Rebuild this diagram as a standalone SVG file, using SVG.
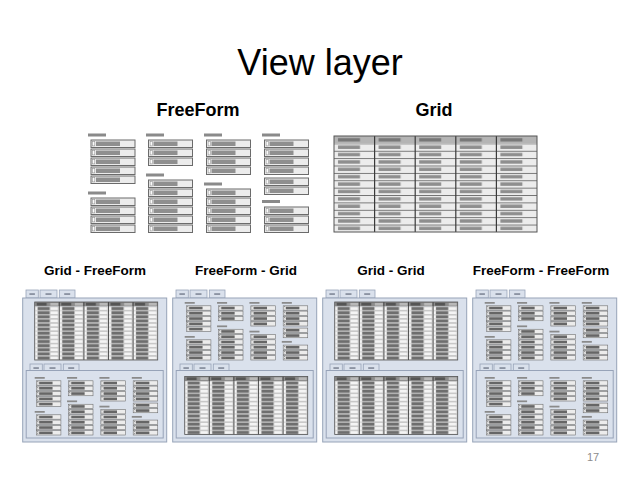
<svg xmlns="http://www.w3.org/2000/svg" xmlns:xlink="http://www.w3.org/1999/xlink" width="640" height="480" viewBox="0 0 640 480">
<style>
.ttl{font-family:"Liberation Sans",Arial,sans-serif;font-size:36px;fill:#000;text-anchor:middle}
.hd{font-family:"Liberation Sans",Arial,sans-serif;font-weight:bold;font-size:18px;fill:#000;text-anchor:middle}
.sub{font-family:"Liberation Sans",Arial,sans-serif;font-weight:bold;font-size:13.5px;fill:#000;text-anchor:middle}
.pg{font-family:"Liberation Sans",Arial,sans-serif;font-size:11px;fill:#8c8c8c;text-anchor:middle}
.frame{fill:#dae1ec;stroke:#97a3b8;stroke-width:1}
.tab{fill:#dae1ec;stroke:#97a3b8;stroke-width:0.8}
.dash{fill:#6b7383}
</style>
<defs>
  <!-- freeform item -->
  <g id="it">
    <rect x="0" y="0" width="44" height="7.5" fill="#ececec" stroke="#6b6b6b" stroke-width="1"/>
    <rect x="1.6" y="1.6" width="2.2" height="4.3" fill="#fafafa" stroke="#888" stroke-width="0.5"/>
    <rect x="5" y="1.5" width="24" height="4.5" fill="currentColor"/>
  </g>
  <rect id="lb" x="0" y="0" width="18" height="3" fill="#8a8a8a"/>
  <g id="ff">
    <use href="#lb" x="88" y="133.5"/>
    <use href="#it" x="91" y="140"/><use href="#it" x="91" y="149"/><use href="#it" x="91" y="158"/><use href="#it" x="91" y="167"/><use href="#it" x="91" y="176"/>
    <use href="#lb" x="88" y="191.5"/>
    <use href="#it" x="91" y="198"/><use href="#it" x="91" y="207"/><use href="#it" x="91" y="216"/><use href="#it" x="91" y="225"/>
    <use href="#lb" x="146" y="133.5"/>
    <use href="#it" x="148.5" y="140"/><use href="#it" x="148.5" y="149"/><use href="#it" x="148.5" y="158"/>
    <use href="#lb" x="146" y="173.5"/>
    <use href="#it" x="148.5" y="180"/><use href="#it" x="148.5" y="189"/><use href="#it" x="148.5" y="198"/><use href="#it" x="148.5" y="207"/><use href="#it" x="148.5" y="216"/><use href="#it" x="148.5" y="225"/>
    <use href="#lb" x="204" y="133.5"/>
    <use href="#it" x="206.5" y="140"/><use href="#it" x="206.5" y="149"/><use href="#it" x="206.5" y="158"/><use href="#it" x="206.5" y="167"/>
    <use href="#lb" x="204" y="182.5"/>
    <use href="#it" x="206.5" y="189"/><use href="#it" x="206.5" y="198"/><use href="#it" x="206.5" y="207"/><use href="#it" x="206.5" y="216"/><use href="#it" x="206.5" y="225"/>
    <use href="#lb" x="262" y="133.5"/>
    <use href="#it" x="264.5" y="140"/><use href="#it" x="264.5" y="149"/><use href="#it" x="264.5" y="158"/><use href="#it" x="264.5" y="167"/>
    <use href="#it" x="264.5" y="178"/><use href="#it" x="264.5" y="187"/>
    <use href="#lb" x="262" y="200"/>
    <use href="#it" x="264.5" y="207"/><use href="#it" x="264.5" y="216"/><use href="#it" x="264.5" y="225"/>
  </g>

  <!-- top grid cells -->
  <pattern id="pT" patternUnits="userSpaceOnUse" x="0" y="7.4" width="40.6" height="7.38">
    <rect x="0" y="0" width="40.6" height="7.38" fill="#ececec"/>
    <rect x="0" y="0" width="40.6" height="0.8" fill="#5e5e5e"/>
    <rect x="4" y="2.1" width="22" height="3.4" fill="#8e8e8e"/>
  </pattern>
  <pattern id="pTh" patternUnits="userSpaceOnUse" x="0" y="0" width="40.6" height="7.4">
    <rect x="0" y="0" width="40.6" height="7.4" fill="#b4b4b4"/>
    <rect x="4" y="2.1" width="22" height="3.4" fill="#777"/>
  </pattern>
  <g id="gridT">
    <rect x="0" y="0" width="203" height="7.4" fill="url(#pTh)"/>
    <rect x="0" y="7.4" width="203" height="88.6" fill="url(#pT)"/>
    <g stroke="#3a3a3a" stroke-width="1.2">
      <line x1="40.6" y1="0" x2="40.6" y2="96"/><line x1="81.2" y1="0" x2="81.2" y2="96"/>
      <line x1="121.8" y1="0" x2="121.8" y2="96"/><line x1="162.4" y1="0" x2="162.4" y2="96"/>
    </g>
    <rect x="0" y="0" width="203" height="96" fill="none" stroke="#555" stroke-width="1"/>
  </g>

  <!-- small grid in panels -->
  <pattern id="pB" patternUnits="userSpaceOnUse" x="0" y="4.5" width="24.6" height="4.12">
    <rect x="0" y="0" width="24.6" height="4.12" fill="#dcdcdc"/>
    <rect x="0.8" y="0.9" width="1.5" height="2.4" fill="#fafafa"/>
    <rect x="3" y="0.5" width="12" height="3.1" fill="#6e6e6e"/>
    <rect x="15.6" y="0.5" width="8" height="3.1" fill="#f4f4f4" stroke="#9a9a9a" stroke-width="0.3"/>
  </pattern>
  <pattern id="pBh" patternUnits="userSpaceOnUse" x="0" y="0" width="24.6" height="4.5">
    <rect x="0" y="0" width="24.6" height="4.5" fill="#8c8c8c"/>
    <rect x="2" y="0.8" width="10" height="2.8" fill="#555"/>
    <rect x="15.6" y="0.8" width="8" height="2.8" fill="#b8b8b8"/>
  </pattern>
  <g id="gridB">
    <rect x="0" y="0" width="123" height="4.5" fill="url(#pBh)"/>
    <rect x="0" y="4.5" width="123" height="53.5" fill="url(#pB)"/>
    <g stroke="#333" stroke-width="0.8">
      <line x1="24.6" y1="0" x2="24.6" y2="58"/><line x1="49.2" y1="0" x2="49.2" y2="58"/>
      <line x1="73.8" y1="0" x2="73.8" y2="58"/><line x1="98.4" y1="0" x2="98.4" y2="58"/>
    </g>
    <rect x="0" y="0" width="123" height="58" fill="none" stroke="#555" stroke-width="0.8"/>
  </g>

  <!-- panel frame with tabs -->
  <g id="tabs">
    <rect class="tab" x="0" y="0" width="12.3" height="8"/>
    <rect class="dash" x="3.4" y="3.4" width="5.5" height="1.3"/>
    <rect class="tab" x="14" y="0" width="17" height="8"/>
    <rect class="dash" x="19.5" y="3.4" width="6" height="1.3"/>
    <rect class="tab" x="33.3" y="0" width="15.7" height="8"/>
    <rect class="dash" x="38.2" y="3.4" width="6" height="1.3"/>
  </g>
  <g id="panel">
    <use href="#tabs" x="3.3" y="-8"/>
    <rect class="frame" x="0" y="0" width="144" height="144"/>
    <use href="#tabs" x="7.3" y="-6.5" transform="translate(0,72.5)"/>
    <rect class="frame" x="3.5" y="72.5" width="137" height="67.5"/>
  </g>
</defs>

<rect x="0" y="0" width="640" height="480" fill="#fff"/>

<text class="ttl" x="320" y="75">View layer</text>
<text class="hd" x="198" y="116">FreeForm</text>
<text class="hd" x="434" y="116">Grid</text>

<g id="freeform-top" style="color:#8f8f8f">
  <use href="#ff"/>
</g>
<g id="grid-top">
  <use href="#gridT" transform="translate(334,136)"/>
</g>

<text class="sub" x="95" y="275">Grid - FreeForm</text>
<text class="sub" x="246" y="275">FreeForm - Grid</text>
<text class="sub" x="391" y="275">Grid - Grid</text>
<text class="sub" x="541" y="275">FreeForm - FreeForm</text>

<g id="panel-grid-freeform" transform="translate(22.7,298)" style="color:#666">
  <use href="#panel"/>
  <use href="#gridB" transform="translate(12,4)"/>
  <use href="#ff" transform="translate(12,79) scale(0.558,0.586) translate(-88,-133.5)"/>
</g>

<g id="panel-freeform-grid" transform="translate(172.7,298)" style="color:#666">
  <use href="#panel"/>
  <use href="#ff" transform="translate(12,4) scale(0.558,0.586) translate(-88,-133.5)"/>
  <use href="#gridB" transform="translate(12,78.5)"/>
</g>

<g id="panel-grid-grid" transform="translate(322.7,298)" style="color:#666">
  <use href="#panel"/>
  <use href="#gridB" transform="translate(12,4)"/>
  <use href="#gridB" transform="translate(12,78.5)"/>
</g>

<g id="panel-freeform-freeform" transform="translate(472.7,298)" style="color:#666">
  <use href="#panel"/>
  <use href="#ff" transform="translate(12,4) scale(0.558,0.586) translate(-88,-133.5)"/>
  <use href="#ff" transform="translate(12,79) scale(0.558,0.586) translate(-88,-133.5)"/>
</g>

<g id="connectors"></g>

<text class="pg" x="593" y="461">17</text>
</svg>
